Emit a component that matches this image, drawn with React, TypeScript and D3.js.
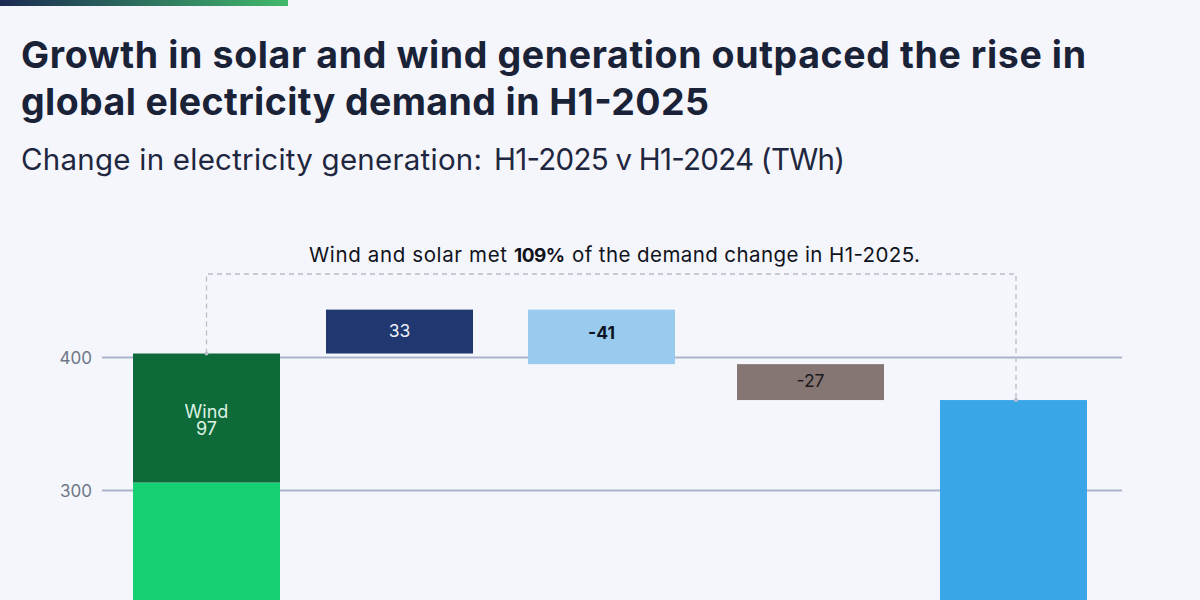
import { scaleLinear, scaleOrdinal } from "d3";

const WIDTH = 1200;
const HEIGHT = 600;

const categories = ["Solar and wind", "Other clean", "Hydro", "Fossil", "Demand"];
const barStarts = [0, 403, 436, 395, 0];
const barEnds = [306, 436, 395, 368, 368];
const barLabels = ["", "33", "-41", "-27", ""];
const barColors = ["#16d173", "#20376f", "#98cbee", "#857573", "#38a6e7"];
const labelColors = ["#ffffff", "#e9edf7", "#0d1322", "#1c1a1e", "#ffffff"];
const windStart = 306;
const windEnd = 403;
const windValue = 97;
const yTicks = [300, 400];

const TITLE = ["Growth in solar and wind generation outpaced the rise in", "global electricity demand in H1-2025"];

const FONT = "Inter, 'Noto Sans', sans-serif";
const BAR_W = 147;
const BRACKET_Y = 274;
const BRACKET_RIGHT = 1016;
const DASH = "#b9bdca";

const x = scaleOrdinal<string, number>().domain(categories).range([206.5, 399.5, 601.5, 810.5, 1013.5]);
const y = scaleLinear().domain([300, 400]).range([490.5, 357.5]);

export default function App() {
  const left = x(categories[0]);
  const bracket = `M${left},${y(windEnd)}V${BRACKET_Y}H${BRACKET_RIGHT}V${y(barEnds[4])}`;

  return (
    <svg
      viewBox={`0 0 ${WIDTH} ${HEIGHT}`}
      width={WIDTH}
      height={HEIGHT}
      style={{ position: "fixed", left: 0, top: 0, display: "block", background: "#f5f6fb" }}
      fontFamily={FONT}
    >
      <defs>
        <linearGradient id="topbar" x1="0" x2="1" y1="0" y2="0">
          <stop offset="0" stopColor="#1b2a52" />
          <stop offset="1" stopColor="#41b96b" />
        </linearGradient>
      </defs>
      <rect x={0} y={0} width={288} height={6} fill="url(#topbar)" />

      {TITLE.map((t, i) => (
        <text
          key={t}
          x={21}
          y={68 + i * 47}
          fontSize={37.5}
          fontWeight={700}
          fill="#1a2238"
          textLength={i === 0 ? 1065 : 688}
          lengthAdjust="spacing"
        >
          {t}
        </text>
      ))}
      <text y={170} fontSize={29.5} fontWeight={400} fill="#1f2740">
        <tspan x={21} textLength={461} lengthAdjust="spacing">Change in electricity generation:</tspan>
        <tspan x={494} textLength={351} lengthAdjust="spacing">H1-2025 v H1-2024 (TWh)</tspan>
      </text>

      {yTicks.map((t) => (
        <g key={t}>
          <line x1={102} x2={1122} y1={y(t)} y2={y(t)} stroke="#abb4cb" strokeWidth={2} />
          <text x={92} y={y(t) + 0.5} dy="0.35em" textAnchor="end" fontSize={17} fill="#6d7689">
            {t}
          </text>
        </g>
      ))}

      {categories.map((c, i) => (
        <rect
          key={c}
          x={x(c) - BAR_W / 2}
          y={y(Math.max(barStarts[i], barEnds[i]))}
          width={BAR_W}
          height={Math.abs(y(barStarts[i]) - y(barEnds[i]))}
          fill={barColors[i]}
        />
      ))}
      <rect
        x={left - BAR_W / 2}
        y={y(windEnd)}
        width={BAR_W}
        height={y(windStart) - y(windEnd)}
        fill="#0e6a38"
      />

      <path d={bracket} fill="none" stroke={DASH} strokeWidth={1.3} strokeDasharray="5 4" />
      <circle cx={left} cy={y(windEnd)} r={2} fill={DASH} />
      <circle cx={BRACKET_RIGHT} cy={y(barEnds[4])} r={2} fill={DASH} />

      <text y={262} fontSize={20.5} fill="#10131c">
        <tspan x={309} textLength={198} lengthAdjust="spacing">Wind and solar met</tspan>
        <tspan x={514} textLength={51} lengthAdjust="spacing" fontWeight={700} fontSize={19}>109%</tspan>
        <tspan x={572} textLength={348} lengthAdjust="spacing">of the demand change in H1-2025.</tspan>
      </text>

      <text textAnchor="middle" fontSize={18} fill="#dff2e6">
        <tspan x={left} y={418}>Wind</tspan>
        <tspan x={left} y={435}>{windValue}</tspan>
      </text>

      {categories.map((c, i) =>
        barLabels[i] ? (
          <text
            key={c}
            x={x(c)}
            // the -41 label sits above its bar's middle in the original
            y={y((barStarts[i] + barEnds[i]) / 2) + (barLabels[i] === "-41" ? -4 : -1)}
            dy="0.35em"
            textAnchor="middle"
            fontSize={17.5}
            fontWeight={barLabels[i] === "-41" ? 700 : 400}
            fill={labelColors[i]}
          >
            {barLabels[i]}
          </text>
        ) : null
      )}
    </svg>
  );
}
